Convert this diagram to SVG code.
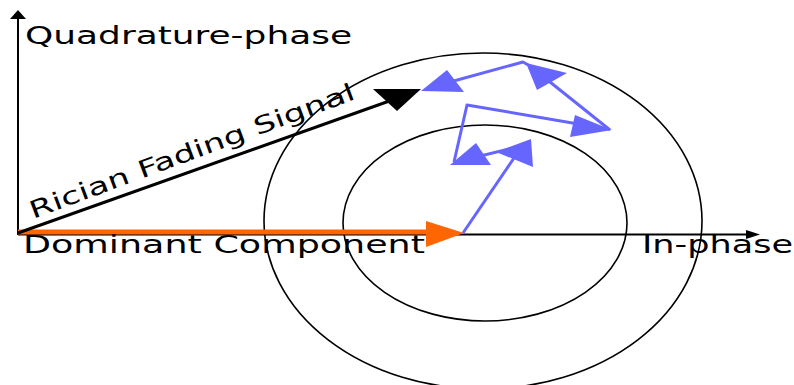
<svg xmlns="http://www.w3.org/2000/svg" width="794" height="385" viewBox="0 0 794 385">
<style>
.lbl{font-family:"DejaVu Sans","Liberation Sans",sans-serif;font-size:25px;fill:#000}
.ring{fill:none;stroke:#000;stroke-width:1.6}
.ax{stroke:#000;stroke-width:2;fill:none}
.bl{stroke:#6666FF;stroke-width:3;fill:none;stroke-linejoin:round}
.blh{fill:#6666FF}
</style>
<rect width="794" height="385" fill="#fff"/>
<g id="circles">
<ellipse id="outer-circle" class="ring" cx="483" cy="221" rx="219" ry="168"/>
<ellipse id="inner-circle" class="ring" cx="485" cy="223" rx="142" ry="98"/>
</g>
<g id="axes">
<line class="ax" x1="18" y1="234.5" x2="750" y2="234.5"/>
<polygon points="746,230 760,234.5 746,239" fill="#000"/>
<line class="ax" x1="18" y1="235" x2="18" y2="17"/>
<polygon points="18,10 10,19 26,19" fill="#000"/>
</g>
<g id="connectors">
<g id="dominant-component">
<line x1="18" y1="232" x2="432" y2="232" stroke="#FF6600" stroke-width="5"/>
<polygon points="426,221 464,233 426,247" fill="#FF6600"/>
</g>
<g id="rician-signal">
<line x1="18" y1="233" x2="395" y2="99" stroke="#000" stroke-width="3"/>
<polygon points="421,89 373,89 397,111" fill="#000"/>
</g>
<g id="scatter">
<line class="bl" x1="463" y1="233" x2="514" y2="158"/>
<polygon class="blh" points="531,139 496,152 533,167"/>
<line class="bl" x1="525" y1="145" x2="472" y2="158"/>
<polygon class="blh" points="450,165 476,143 491,165"/>
<polyline class="bl" points="454,162 467,105 590,126"/>
<polygon class="blh" points="575,115 612,130 570,137"/>
<line class="bl" x1="610" y1="130" x2="545" y2="78"/>
<polygon class="blh" points="526,63 567,73 537,90"/>
<polyline class="bl" points="530,66 523,62 450,82"/>
<polygon class="blh" points="421,91 447,70 464,92"/>
</g>
</g>
<g id="labels">
<text id="quadrature-label" class="lbl" x="25" y="43.5" textLength="327" lengthAdjust="spacingAndGlyphs">Quadrature-phase</text>
<text id="dominant-label" class="lbl" x="23" y="253" textLength="402" lengthAdjust="spacingAndGlyphs">Dominant Component</text>
<text id="inphase-label" class="lbl" x="642" y="253" textLength="151" lengthAdjust="spacingAndGlyphs">In-phase</text>
<text id="rician-label" class="lbl" style="font-size:24px" transform="translate(33,219) rotate(-20.4)" x="0" y="0" textLength="345" lengthAdjust="spacingAndGlyphs">Rician Fading Signal</text>
</g>
</svg>
